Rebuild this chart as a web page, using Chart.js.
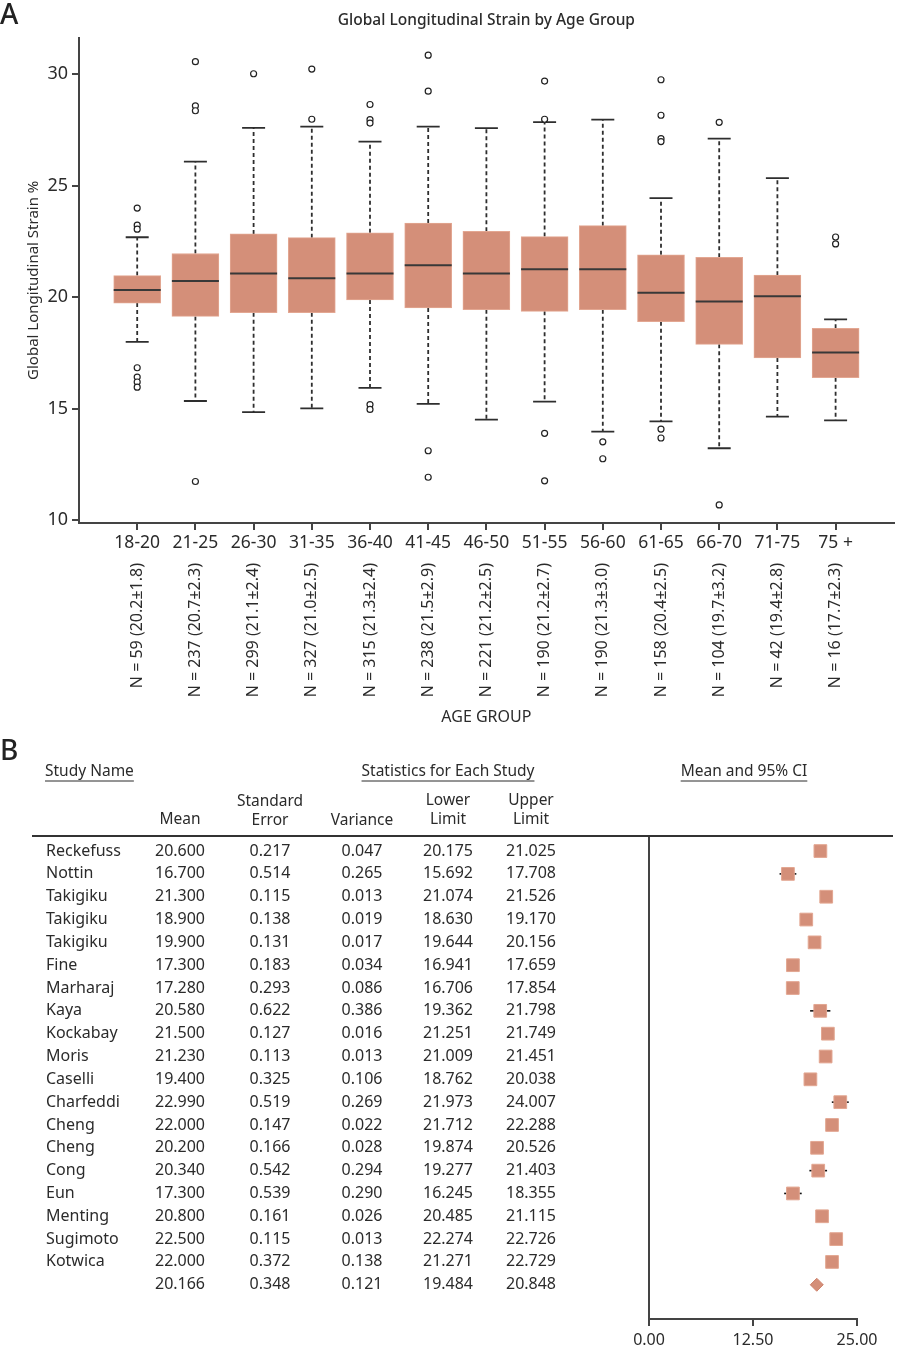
<!DOCTYPE html>
<html>
<head>
<meta charset="utf-8">
<script src="https://cdn.jsdelivr.net/npm/chart.js@4.4.1/dist/chart.umd.min.js"></script>
<style>
  body { margin: 0; background: #fff; }
  #wrap { position: relative; width: 899px; height: 1350px; }
  canvas { position: absolute; left: 0; }
  #boxChart { top: 0; }
  #forestChart { top: 730px; }
</style>
</head>
<body>
<div id="wrap">
  <canvas id="boxChart" width="899" height="730"></canvas>
  <canvas id="forestChart" width="899" height="620"></canvas>
</div>
<script>
// panel A: box plot by age group
const ageGroups = ["18-20", "21-25", "26-30", "31-35", "36-40", "41-45", "46-50", "51-55", "56-60", "61-65", "66-70", "71-75", "75 +"];
const nLabels = ["N = 59 (20.2±1.8)", "N = 237 (20.7±2.3)", "N = 299 (21.1±2.4)", "N = 327 (21.0±2.5)", "N = 315 (21.3±2.4)", "N = 238 (21.5±2.9)", "N = 221 (21.2±2.5)", "N = 190 (21.2±2.7)", "N = 190 (21.3±3.0)", "N = 158 (20.4±2.5)", "N = 104 (19.7±3.2)", "N = 42 (19.4±2.8)", "N = 16 (17.7±2.3)"];
const q1 = [19.74, 19.14, 19.31, 19.31, 19.88, 19.52, 19.44, 19.37, 19.44, 18.90, 17.89, 17.28, 16.39];
const medians = [20.32, 20.73, 21.06, 20.85, 21.06, 21.44, 21.06, 21.25, 21.25, 20.20, 19.81, 20.05, 17.52];
const q3 = [20.97, 21.96, 22.84, 22.67, 22.89, 23.33, 22.96, 22.72, 23.21, 21.90, 21.79, 20.99, 18.61];
const whiskerLow = [18.00, 15.35, 14.85, 15.02, 15.94, 15.22, 14.51, 15.32, 13.98, 14.44, 13.23, 14.65, 14.48];
const whiskerHigh = [22.69, 26.08, 27.59, 27.65, 26.98, 27.65, 27.58, 27.85, 27.96, 24.44, 27.11, 25.34, 19.01];
const outliers = [
    [24.00, 23.23, 23.05, 16.84, 16.42, 16.20, 15.97],
    [30.56, 28.58, 28.36, 11.74],
    [30.02],
    [30.23, 27.98],
    [28.64, 27.96, 27.81, 15.19, 14.97],
    [30.85, 29.24, 13.12, 11.93],
    [],
    [29.69, 27.98, 13.90, 11.77],
    [13.52, 12.76],
    [29.75, 28.16, 27.11, 26.98, 14.09, 13.69],
    [27.84, 10.69],
    [],
    [22.70, 22.39]
];
const yTicksA = [10, 15, 20, 25, 30];

// panel B: forest plot
const studies = ["Reckefuss", "Nottin", "Takigiku", "Takigiku", "Takigiku", "Fine", "Marharaj", "Kaya", "Kockabay", "Moris", "Caselli", "Charfeddi", "Cheng", "Cheng", "Cong", "Eun", "Menting", "Sugimoto", "Kotwica"];
const means = [20.600, 16.700, 21.300, 18.900, 19.900, 17.300, 17.280, 20.580, 21.500, 21.230, 19.400, 22.990, 22.000, 20.200, 20.340, 17.300, 20.800, 22.500, 22.000];
const stdErrors = [0.217, 0.514, 0.115, 0.138, 0.131, 0.183, 0.293, 0.622, 0.127, 0.113, 0.325, 0.519, 0.147, 0.166, 0.542, 0.539, 0.161, 0.115, 0.372];
const variances = [0.047, 0.265, 0.013, 0.019, 0.017, 0.034, 0.086, 0.386, 0.016, 0.013, 0.106, 0.269, 0.022, 0.028, 0.294, 0.290, 0.026, 0.013, 0.138];
const lowerLimits = [20.175, 15.692, 21.074, 18.630, 19.644, 16.941, 16.706, 19.362, 21.251, 21.009, 18.762, 21.973, 21.712, 19.874, 19.277, 16.245, 20.485, 22.274, 21.271];
const upperLimits = [21.025, 17.708, 21.526, 19.170, 20.156, 17.659, 17.854, 21.798, 21.749, 21.451, 20.038, 24.007, 22.288, 20.526, 21.403, 18.355, 21.115, 22.726, 22.729];
const summaryRow = { mean: 20.166, se: 0.348, variance: 0.121, lower: 19.484, upper: 20.848 };
const xTicksB = [0, 12.5, 25];

const FONT = "'Noto Sans', 'Open Sans', sans-serif";
const TEXT = "#2b2b2b";
const AXIS = "#444";
const SALMON = "#d48f79";

Chart.defaults.font.family = FONT;
Chart.defaults.color = TEXT;

const boxPlugin = {
    id: "boxParts",
    beforeDatasetsDraw(chart) {
        const { ctx, scales: { x, y } } = chart;
        ctx.save();
        ctx.strokeStyle = "#2e2e2e";
        ctx.lineWidth = 1.8;
        ageGroups.forEach((g, i) => {
            const px = x.getPixelForValue(i + 1);
            ctx.setLineDash([4, 3]);
            ctx.beginPath();
            ctx.moveTo(px, y.getPixelForValue(q3[i]));
            ctx.lineTo(px, y.getPixelForValue(whiskerHigh[i]));
            ctx.moveTo(px, y.getPixelForValue(q1[i]));
            ctx.lineTo(px, y.getPixelForValue(whiskerLow[i]));
            ctx.stroke();
            ctx.setLineDash([]);
            ctx.beginPath();
            [whiskerHigh[i], whiskerLow[i]].forEach(v => {
                const py = y.getPixelForValue(v);
                ctx.moveTo(px - 11.5, py);
                ctx.lineTo(px + 11.5, py);
            });
            ctx.stroke();
        });
        ctx.restore();
    },
    afterDatasetsDraw(chart) {
        const { ctx, scales: { x, y } } = chart;
        ctx.save();
        ctx.strokeStyle = "#383838";
        ctx.lineWidth = 2;
        medians.forEach((m, i) => {
            const px = x.getPixelForValue(i + 1);
            const py = y.getPixelForValue(m);
            ctx.beginPath();
            ctx.moveTo(px - 23.5, py);
            ctx.lineTo(px + 23.5, py);
            ctx.stroke();
        });
        ctx.restore();
    },
    afterDraw(chart) {
        const { ctx, scales: { x } } = chart;
        ctx.save();
        ctx.fillStyle = TEXT;
        ctx.font = "16px " + FONT;
        ctx.textAlign = "right";
        ctx.textBaseline = "middle";
        nLabels.forEach((t, i) => {
            ctx.save();
            ctx.translate(x.getPixelForValue(i + 1), 563);
            ctx.rotate(-Math.PI / 2);
            ctx.fillText(t, 0, 0);
            ctx.restore();
        });
        ctx.font = "500 28px " + FONT;
        ctx.textAlign = "left";
        ctx.fillStyle = "#222";
        ctx.fillText("A", 0, 16);
        ctx.restore();
    }
};

const outlierPoints = [];
outliers.forEach((list, i) => list.forEach(v => outlierPoints.push({ x: i + 1, y: v })));

new Chart(document.getElementById("boxChart"), {
    type: "bar",
    data: {
        datasets: [
            {
                label: "IQR",
                data: ageGroups.map((g, i) => ({ x: i + 1, y: [q1[i], q3[i]] })),
                backgroundColor: SALMON,
                borderColor: "#e3a792",
                borderWidth: 1,
                borderSkipped: false,
                barThickness: 47,
                order: 2
            },
            {
                type: "scatter",
                label: "Outliers",
                data: outlierPoints,
                pointStyle: "circle",
                pointRadius: 3,
                backgroundColor: "#fff",
                borderColor: "#222",
                borderWidth: 1.2,
                order: 1
            }
        ]
    },
    options: {
        responsive: false,
        animation: false,
        layout: { padding: { left: 0, right: 0, top: 0, bottom: 0 } },
        plugins: {
            legend: { display: false },
            tooltip: { enabled: false },
            title: {
                display: true,
                fullSize: false,
                text: "Global Longitudinal Strain by Age Group",
                font: { size: 15.5, weight: "500" },
                color: TEXT,
                padding: { top: 11, bottom: 8 }
            }
        },
        scales: {
            x: {
                type: "linear",
                min: 0,
                max: 14,
                offset: false,
                afterBuildTicks: s => { s.ticks = ageGroups.map((g, i) => ({ value: i + 1 })); },
                afterFit: s => { s.height = 207; },
                ticks: {
                    autoSkip: false,
                    maxRotation: 0,
                    padding: 3,
                    color: TEXT,
                    font: { size: 17.5 },
                    callback: v => ageGroups[v - 1]
                },
                grid: { offset: false, drawOnChartArea: false, tickLength: 7, color: AXIS, lineWidth: 2 },
                border: { color: AXIS, width: 2 },
                title: {
                    display: true,
                    text: "AGE GROUP",
                    color: TEXT,
                    font: { size: 16 },
                    padding: { bottom: 3 }
                }
            },
            y: {
                min: 9.88,
                max: 31.64,
                beginAtZero: false,
                afterBuildTicks: s => { s.ticks = yTicksA.map(v => ({ value: v })); },
                afterFit: s => { s.width = 79; },
                ticks: { padding: 4, color: TEXT, font: { size: 18 } },
                grid: { drawOnChartArea: false, tickLength: 7, color: AXIS, lineWidth: 2 },
                border: { color: AXIS, width: 2 },
                title: {
                    display: true,
                    text: "Global Longitudinal Strain %",
                    color: TEXT,
                    font: { size: 15 },
                    padding: { top: 25 }
                }
            }
        }
    },
    plugins: [boxPlugin]
});

// forest plot with its statistics table
const colMean = 180, colSE = 270, colVar = 362, colLow = 448, colUp = 531;

function underlined(ctx, text, x, y, align) {
    ctx.textAlign = align;
    ctx.fillText(text, x, y);
    const w = ctx.measureText(text).width;
    const x0 = align === "center" ? x - w / 2 : x;
    ctx.beginPath();
    ctx.moveTo(x0, y + 9);
    ctx.lineTo(x0 + w, y + 9);
    ctx.stroke();
}

const forestPlugin = {
    id: "forestTable",
    beforeDatasetsDraw(chart) {
        const { ctx, scales: { x, y } } = chart;
        ctx.save();
        ctx.strokeStyle = "#111";
        ctx.lineWidth = 1.6;
        const lows = lowerLimits.concat([summaryRow.lower]);
        const ups = upperLimits.concat([summaryRow.upper]);
        lows.forEach((lo, i) => {
            const py = y.getPixelForValue(i);
            ctx.beginPath();
            ctx.moveTo(x.getPixelForValue(lo), py);
            ctx.lineTo(x.getPixelForValue(ups[i]), py);
            ctx.stroke();
        });
        ctx.restore();
    },
    afterDraw(chart) {
        const { ctx, scales: { y }, chartArea } = chart;
        ctx.save();
        ctx.fillStyle = "#222";
        ctx.font = "500 28px " + FONT;
        ctx.textAlign = "left";
        ctx.textBaseline = "middle";
        ctx.fillText("B", 0, 22);

        ctx.fillStyle = TEXT;
        ctx.strokeStyle = TEXT;
        ctx.lineWidth = 1;
        ctx.font = "15.5px " + FONT;
        underlined(ctx, "Study Name", 45, 42, "left");
        underlined(ctx, "Statistics for Each Study", colLow, 42, "center");
        underlined(ctx, "Mean and 95% CI", 744, 42, "center");

        ctx.textAlign = "center";
        ctx.fillText("Mean", colMean, 90);
        ctx.fillText("Standard", colSE, 72);
        ctx.fillText("Error", colSE, 91);
        ctx.fillText("Variance", colVar, 91);
        ctx.fillText("Lower", colLow, 71);
        ctx.fillText("Limit", colLow, 90);
        ctx.fillText("Upper", colUp, 71);
        ctx.fillText("Limit", colUp, 90);

        ctx.strokeStyle = "#333";
        ctx.lineWidth = 2;
        ctx.beginPath();
        ctx.moveTo(32, chartArea.top);
        ctx.lineTo(893, chartArea.top);
        ctx.stroke();

        ctx.font = "16px " + FONT;
        studies.forEach((name, i) => {
            const py = y.getPixelForValue(i);
            ctx.textAlign = "left";
            ctx.fillText(name, 46, py);
            ctx.textAlign = "center";
            ctx.fillText(means[i].toFixed(3), colMean, py);
            ctx.fillText(stdErrors[i].toFixed(3), colSE, py);
            ctx.fillText(variances[i].toFixed(3), colVar, py);
            ctx.fillText(lowerLimits[i].toFixed(3), colLow, py);
            ctx.fillText(upperLimits[i].toFixed(3), colUp, py);
        });
        const sy = y.getPixelForValue(studies.length);
        ctx.fillText(summaryRow.mean.toFixed(3), colMean, sy);
        ctx.fillText(summaryRow.se.toFixed(3), colSE, sy);
        ctx.fillText(summaryRow.variance.toFixed(3), colVar, sy);
        ctx.fillText(summaryRow.lower.toFixed(3), colLow, sy);
        ctx.fillText(summaryRow.upper.toFixed(3), colUp, sy);
        ctx.restore();
    }
};

new Chart(document.getElementById("forestChart"), {
    type: "scatter",
    data: {
        datasets: [
            {
                label: "Studies",
                data: means.map((m, i) => ({ x: m, y: i })),
                pointStyle: "rect",
                pointRadius: 9,
                backgroundColor: SALMON,
                borderColor: "#e3a792",
                borderWidth: 1
            },
            {
                label: "Summary",
                data: [{ x: summaryRow.mean, y: studies.length }],
                pointStyle: "rectRot",
                pointRadius: 6.5,
                backgroundColor: SALMON,
                borderColor: "#d0856e",
                borderWidth: 1
            }
        ]
    },
    options: {
        responsive: false,
        animation: false,
        layout: { padding: { left: 649, right: 42, top: 106, bottom: 0 } },
        plugins: { legend: { display: false }, tooltip: { enabled: false } },
        scales: {
            x: {
                type: "linear",
                min: 0,
                max: 25,
                afterBuildTicks: s => { s.ticks = xTicksB.map(v => ({ value: v })); },
                afterFit: s => { s.height = 31; },
                ticks: { padding: 5, color: TEXT, font: { size: 16 }, callback: v => v.toFixed(2) },
                grid: { drawOnChartArea: false, tickLength: 7, color: AXIS, lineWidth: 2 },
                border: { color: AXIS, width: 2 }
            },
            y: {
                type: "linear",
                min: -0.66,
                max: 20.5,
                reverse: true,
                afterFit: s => { s.width = 0; },
                ticks: { display: false },
                grid: { display: false },
                border: { display: true, color: AXIS, width: 2 }
            }
        }
    },
    plugins: [forestPlugin]
});
</script>
</body>
</html>
